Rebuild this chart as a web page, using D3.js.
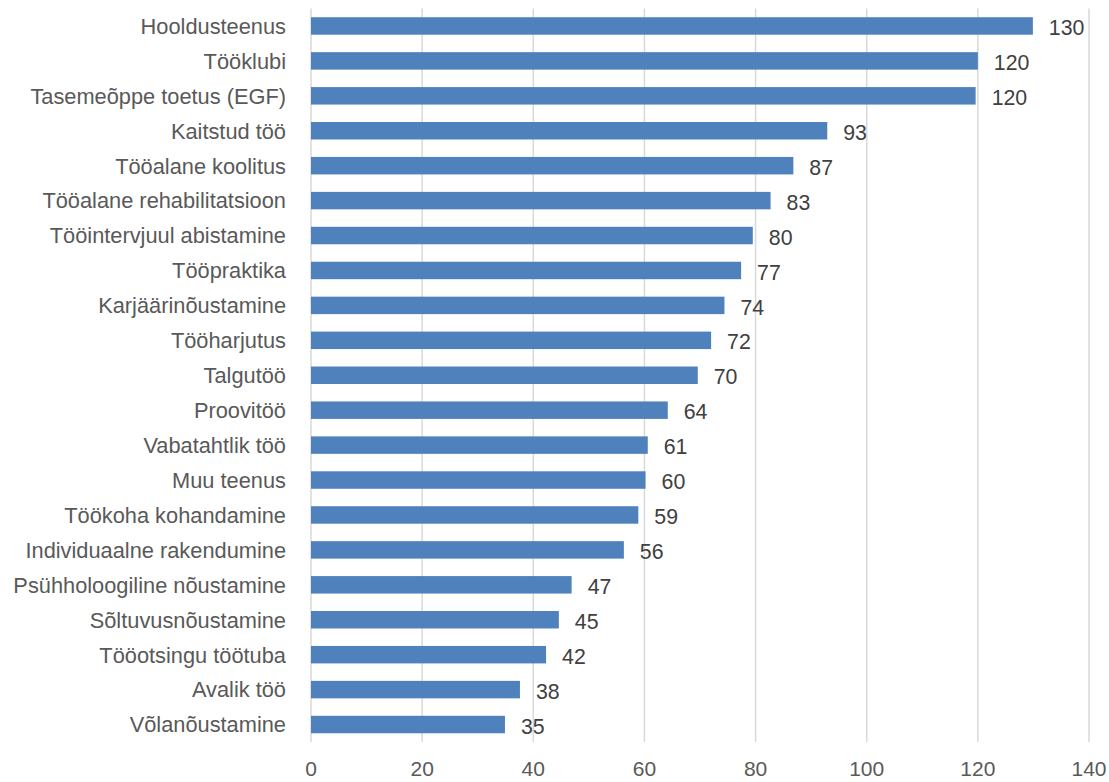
<!DOCTYPE html>
<html>
<head>
<meta charset="utf-8">
<script src="https://cdn.jsdelivr.net/npm/d3@7"></script>
<style>
	body { margin: 0; background: #fff; }
	svg { display: block; font-family: "Liberation Sans", Arial, sans-serif; }
	.grid line { stroke: #d9d9d9; stroke-width: 1.5; }
	.cat { fill: #595959; font-size: 21.8px; }
	.tick-label { fill: #595959; font-size: 21px; }
	.val { fill: #404040; font-size: 21.3px; }
</style>
</head>
<body>
<svg id="viz"></svg>
<script>
var width = 1109;
var height = 782;

// teenused, suurimast väiksemani
let categories = [
	"Hooldusteenus", "Tööklubi", "Tasemeõppe toetus (EGF)", "Kaitstud töö",
	"Tööalane koolitus", "Tööalane rehabilitatsioon", "Tööintervjuul abistamine",
	"Tööpraktika", "Karjäärinõustamine", "Tööharjutus", "Talgutöö", "Proovitöö",
	"Vabatahtlik töö", "Muu teenus", "Töökoha kohandamine", "Individuaalne rakendumine",
	"Psühholoogiline nõustamine", "Sõltuvusnõustamine", "Tööotsingu töötuba",
	"Avalik töö", "Võlanõustamine"
];
let values = [
	129.9, 120.0, 119.6, 92.9, 86.8, 82.7, 79.5, 77.4, 74.4, 72.0, 69.6,
	64.2, 60.6, 60.2, 58.9, 56.3, 46.9, 44.6, 42.3, 37.6, 34.9
];
let tickValues = [0, 20, 40, 60, 80, 100, 120, 140];

let svg = d3.select("#viz")
	.attr("width", width)
	.attr("height", height);

let plot = {left: 311, right: 1089, top: 8.5, bottom: 742};

let x = d3.scaleLinear()
	.domain([0, 140])
	.range([plot.left, plot.right]);

let y = d3.scaleBand()
	.domain(categories)
	.range([plot.top, plot.bottom])
	.paddingInner(0.5)
	.paddingOuter(0.25);

let fmt = d3.format(".0f");

// vertikaalsed abijooned
svg.append("g").attr("class", "grid")
	.selectAll("line")
	.data(tickValues)
	.enter()
	.append("line")
	.attr("x1", d => x(d))
	.attr("x2", d => x(d))
	.attr("y1", plot.top)
	.attr("y2", plot.bottom);

svg.append("g")
	.selectAll("text")
	.data(tickValues)
	.enter()
	.append("text")
	.attr("class", "tick-label")
	.attr("x", d => x(d))
	.attr("y", 776)
	.attr("text-anchor", "middle")
	.text(d => d);

let rows = svg.append("g")
	.selectAll("g")
	.data(categories)
	.enter()
	.append("g");

rows.append("rect")
	.attr("x", x(0))
	.attr("y", d => y(d))
	.attr("width", (d, i) => x(values[i]) - x(0))
	.attr("height", y.bandwidth())
	.attr("fill", "#4f81bd");

rows.append("text")
	.attr("class", "cat")
	.attr("x", plot.left - 25)
	.attr("y", d => y(d) + y.bandwidth() / 2)
	.attr("dy", "0.36em")
	.attr("text-anchor", "end")
	.text(d => d);

rows.append("text")
	.attr("class", "val")
	.attr("x", (d, i) => x(values[i]) + 16)
	.attr("y", d => y(d) + y.bandwidth() / 2 + 1.5)
	.attr("dy", "0.36em")
	.text((d, i) => fmt(values[i]));
</script>
</body>
</html>
